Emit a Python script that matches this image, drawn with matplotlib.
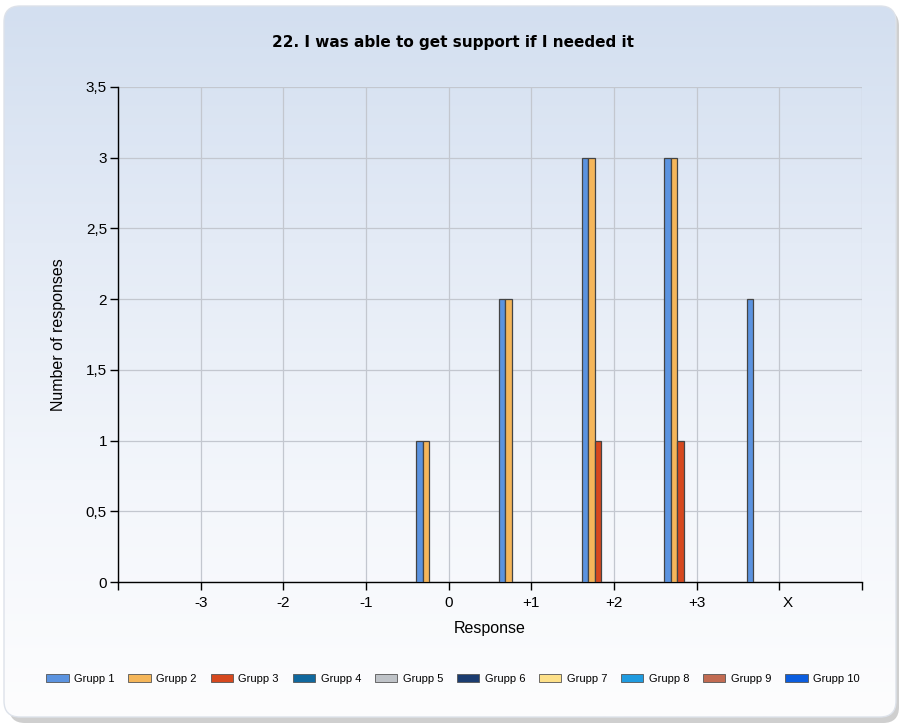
import numpy as np
import matplotlib
matplotlib.use("Agg")
import matplotlib.pyplot as plt
from matplotlib.patches import FancyBboxPatch
from matplotlib.ticker import FuncFormatter
from matplotlib.colors import LinearSegmentedColormap
import matplotlib.transforms as mtransforms

plt.rcParams["font.family"] = ["Liberation Sans", "DejaVu Sans"]

categories = ["-3", "-2", "-1", "0", "+1", "+2", "+3", "X"]
groups = ["Grupp 1", "Grupp 2", "Grupp 3", "Grupp 4", "Grupp 5",
          "Grupp 6", "Grupp 7", "Grupp 8", "Grupp 9", "Grupp 10"]
grupp1 = [0, 0, 0, 1, 2, 3, 3, 2]
grupp2 = [0, 0, 0, 1, 2, 3, 3, 0]
grupp3 = [0, 0, 0, 0, 0, 1, 1, 0]
grupp4 = [0, 0, 0, 0, 0, 0, 0, 0]
grupp5 = [0, 0, 0, 0, 0, 0, 0, 0]
grupp6 = [0, 0, 0, 0, 0, 0, 0, 0]
grupp7 = [0, 0, 0, 0, 0, 0, 0, 0]
grupp8 = [0, 0, 0, 0, 0, 0, 0, 0]
grupp9 = [0, 0, 0, 0, 0, 0, 0, 0]
grupp10 = [0, 0, 0, 0, 0, 0, 0, 0]
series = [grupp1, grupp2, grupp3, grupp4, grupp5, grupp6, grupp7, grupp8, grupp9, grupp10]
colors = ["#5b93e0", "#f5b65a", "#d6481e", "#10689e", "#bfc3c8",
          "#1b3c70", "#fde089", "#1f9be0", "#c26b52", "#0b5ddf"]

W, H = 906, 725
fig = plt.figure(figsize=(W / 100, H / 100), dpi=100)
fig.patch.set_facecolor("white")

# background rounded panel with gradient
bg = fig.add_axes([0, 0, 1, 1], zorder=-10)
bg.set_xlim(0, W)
bg.set_ylim(0, H)
bg.axis("off")
shadow = FancyBboxPatch((9, 2), W - 16, H - 12, boxstyle="round,pad=0,rounding_size=16",
                        facecolor="#cfcfcf", edgecolor="none", zorder=0)
bg.add_patch(shadow)
panel = FancyBboxPatch((4, 8), W - 14, H - 14, boxstyle="round,pad=0,rounding_size=16",
                       facecolor="#fbfcfe", edgecolor="none", zorder=1)
bg.add_patch(panel)
grad = np.linspace(0, 1, 256).reshape(-1, 1)
cmap = LinearSegmentedColormap.from_list("bgc", ["#fdfdfe", "#f3f6fb", "#e4ebf6", "#d3dff0"])
im = bg.imshow(grad, extent=[4, W - 10, 8, H - 6], origin="lower", aspect="auto",
               cmap=cmap, zorder=2)
im.set_clip_path(panel)
border = FancyBboxPatch((4, 8), W - 14, H - 14, boxstyle="round,pad=0,rounding_size=16",
                        facecolor="none", edgecolor="#dde2ea", linewidth=1, zorder=3)
bg.add_patch(border)

ax = fig.add_axes([118 / W, (H - 582) / H, (862 - 118) / W, (582 - 87) / H])
ax.patch.set_alpha(0)

x = np.arange(len(categories))
n = len(series)
bw = 0.0786
for i, (vals, col) in enumerate(zip(series, colors)):
    offs = (i - (n - 1) / 2) * bw
    vals = np.array(vals, dtype=float)
    lw = np.where(vals > 0, 0.9, 0.0)
    ax.bar(x + offs, vals, width=bw, color=col, edgecolor="#444444", linewidth=lw,
           label=groups[i], zorder=3)

ax.set_xlim(-1, 8)
ax.set_ylim(0, 3.5)
ax.set_xticks(np.arange(-1, 9))
ax.set_xticklabels([""] + categories + [""])
ax.set_yticks(np.arange(0, 3.51, 0.5))
ax.yaxis.set_major_formatter(FuncFormatter(lambda v, p: (f"{v:g}").replace(".", ",")))
ax.grid(True, color="#c3c7cf", linewidth=0.9, zorder=0)
for s in ["top", "right"]:
    ax.spines[s].set_visible(False)
for s in ["left", "bottom"]:
    ax.spines[s].set_color("black")
    ax.spines[s].set_linewidth(1.0)
ax.tick_params(axis="x", length=6, width=1, colors="black", labelsize=11, pad=4)
ax.tick_params(axis="y", length=6, width=1, colors="black", labelsize=11, pad=2)
lbls = ax.get_xticklabels()
offset = mtransforms.ScaledTranslation(8 / 100, 0, fig.dpi_scale_trans)
lbls[8].set_transform(lbls[8].get_transform() + offset)

ax.set_xlabel("Response", fontsize=11.5, labelpad=8)
ax.set_ylabel("Number of responses", fontsize=11.5, labelpad=14)

fig.text(0.5, (H - 42) / H, "22. I was able to get support if I needed it",
         ha="center", va="center", fontsize=11, fontweight="bold", family=["DejaVu Sans"])

handles, labels = ax.get_legend_handles_labels()
leg = fig.legend(handles, labels, loc="center", bbox_to_anchor=(0.5, (H - 679) / H),
                 ncol=10, frameon=False, fontsize=8, handlelength=2.0, handleheight=0.8,
                 columnspacing=1.25, handletextpad=0.5)
for i, p in enumerate(leg.get_patches()):
    p.set_edgecolor("#555555")
    p.set_linewidth(0.6)
    p.set_facecolor(colors[i])

fig.savefig("out.png", dpi=100)
